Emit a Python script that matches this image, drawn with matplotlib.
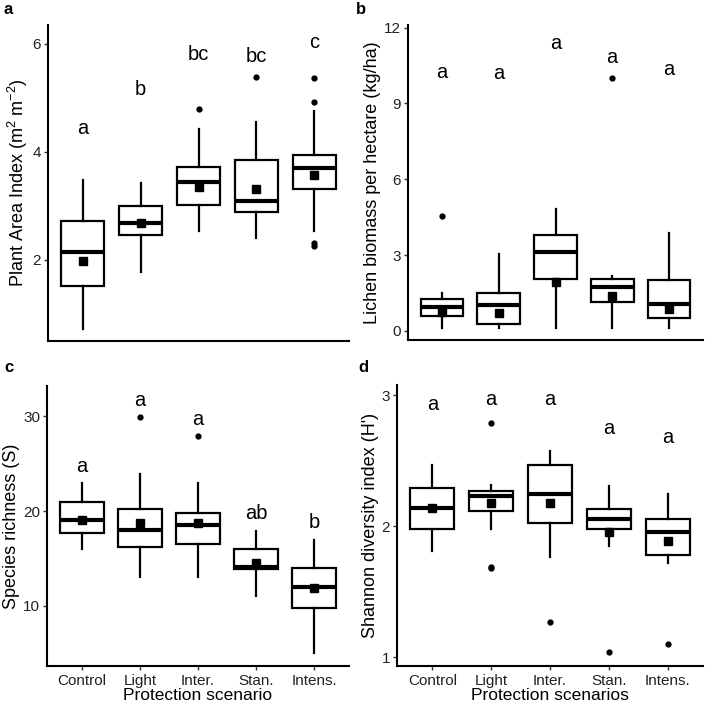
import matplotlib
matplotlib.use('Agg')
import matplotlib.pyplot as plt

plt.rcParams['font.family'] = ['Liberation Sans', 'DejaVu Sans']
plt.rcParams['mathtext.fontset'] = 'custom'
plt.rcParams['mathtext.rm'] = 'Liberation Sans'
plt.rcParams['mathtext.it'] = 'Liberation Sans'

scenarios = ['Control', 'Light', 'Inter.', 'Stan.', 'Intens.']

# panel a: plant area index
pai_low = [0.73, 1.78, 2.54, 2.40, 2.54]
pai_q1 = [1.51, 2.47, 3.02, 2.89, 3.32]
pai_med = [2.15, 2.68, 3.44, 3.09, 3.71]
pai_q3 = [2.73, 2.99, 3.72, 3.86, 3.94]
pai_high = [3.48, 3.42, 4.43, 4.56, 4.75]
pai_mean = [1.98, 2.69, 3.35, 3.31, 3.57]
pai_out = [[], [], [4.80], [5.38], [5.36, 4.93, 2.31, 2.26]]
pai_letters = ['a', 'b', 'bc', 'bc', 'c']
pai_letter_y = [4.44, 5.15, 5.81, 5.77, 6.02]

# panel b: lichen biomass
lic_low = [0.11, 0.13, 0.13, 0.13, 0.11]
lic_q1 = [0.59, 0.28, 2.07, 1.16, 0.53]
lic_med = [0.93, 1.03, 3.13, 1.72, 1.05]
lic_q3 = [1.26, 1.49, 3.78, 2.04, 2.01]
lic_high = [1.51, 3.04, 4.84, 2.17, 3.86]
lic_mean = [0.76, 0.70, 1.95, 1.38, 0.87]
lic_out = [[4.54], [], [], [10.01], []]
lic_letters = ['a', 'a', 'a', 'a', 'a']
lic_letter_y = [10.24, 10.17, 11.38, 10.83, 10.33]

# panel c: species richness
sr_low = [15.98, 12.99, 12.99, 11.02, 5.04]
sr_q1 = [17.7, 16.22, 16.57, 13.9, 9.75]
sr_med = [19.03, 17.98, 18.5, 14.04, 12.0]
sr_q3 = [21.0, 20.23, 19.74, 15.94, 13.97]
sr_high = [22.97, 23.95, 22.97, 17.9, 16.92]
sr_mean = [19.03, 18.75, 18.75, 14.5, 11.86]
sr_out = [[], [29.93], [27.93], [], []]
sr_letters = ['a', 'a', 'a', 'ab', 'b']
sr_letter_y = [24.7, 31.7, 29.65, 19.7, 18.75]

# panel d: shannon diversity
sh_low = [1.81, 1.98, 1.77, 1.85, 1.72]
sh_q1 = [1.98, 2.12, 2.03, 1.98, 1.78]
sh_med = [2.14, 2.23, 2.25, 2.06, 1.96]
sh_q3 = [2.29, 2.27, 2.47, 2.13, 2.06]
sh_high = [2.47, 2.32, 2.58, 2.31, 2.25]
sh_mean = [2.14, 2.18, 2.18, 1.96, 1.89]
sh_out = [[], [2.79, 1.69, 1.68], [1.27], [1.04], [1.10]]
sh_letters = ['a', 'a', 'a', 'a', 'a']
sh_letter_y = [2.93, 2.97, 2.97, 2.75, 2.68]

W, H = 709, 704
fig = plt.figure(figsize=(W / 100, H / 100), dpi=100)


def add_ax(left, top, right, bottom):
    return fig.add_axes([left / W, 1 - bottom / H, (right - left) / W, (bottom - top) / H])


def draw_panel(ax, low, q1, med, q3, high, mean, out, letters, letter_y, ylim, yticks, ylabel, show_x):
    stats = []
    for i in range(len(scenarios)):
        stats.append({'whislo': low[i], 'q1': q1[i], 'med': med[i], 'q3': q3[i],
                      'whishi': high[i], 'fliers': out[i], 'label': scenarios[i]})
    pos = list(range(1, len(scenarios) + 1))
    ax.bxp(stats, positions=pos, widths=0.75, showcaps=False, patch_artist=True,
           boxprops=dict(facecolor='white', edgecolor='black', linewidth=1.6),
           medianprops=dict(color='black', linewidth=3.0, solid_capstyle='butt'),
           whiskerprops=dict(color='black', linewidth=1.6),
           flierprops=dict(marker='o', markerfacecolor='black', markeredgecolor='black', markersize=3.5))
    ax.plot(pos, mean, 's', color='black', markersize=6, zorder=5)
    for p, t, y in zip(pos, letters, letter_y):
        ax.text(p, y, t, ha='center', va='center', fontsize=14.5, color='black')
    ax.set_xlim(0.4, 5.6)
    ax.set_ylim(*ylim)
    ax.set_yticks(yticks)
    ax.set_ylabel(ylabel, fontsize=13, color='black', labelpad=2)
    for s in ['top', 'right']:
        ax.spines[s].set_visible(False)
    for s in ['left', 'bottom']:
        ax.spines[s].set_linewidth(1.5)
    ax.tick_params(axis='y', labelsize=11, length=3, width=1, pad=2, color='#333333', labelcolor='#222222')
    if show_x:
        ax.tick_params(axis='x', labelsize=11, length=3, width=1, pad=3, color='#333333', labelcolor='#222222')
    else:
        ax.tick_params(axis='x', bottom=False, labelbottom=False)


ax_a = add_ax(48, 25, 349, 341)
draw_panel(ax_a, pai_low, pai_q1, pai_med, pai_q3, pai_high, pai_mean, pai_out, pai_letters, pai_letter_y,
           (0.5, 6.35), [2, 4, 6], 'Plant Area Index (m$^{2}$ m$^{-2}$)', False)

ax_b = add_ax(408, 25, 703, 340)
draw_panel(ax_b, lic_low, lic_q1, lic_med, lic_q3, lic_high, lic_mean, lic_out, lic_letters, lic_letter_y,
           (-0.36, 12.1), [0, 3, 6, 9, 12], 'Lichen biomass per hectare (kg/ha)', False)

ax_c = add_ax(47, 386, 349, 666)
draw_panel(ax_c, sr_low, sr_q1, sr_med, sr_q3, sr_high, sr_mean, sr_out, sr_letters, sr_letter_y,
           (3.64, 33.2), [10, 20, 30], 'Species richness (S)', True)
ax_c.set_xlabel('Protection scenario', fontsize=12.5, labelpad=0)

ax_d = add_ax(397, 385, 703, 666)
draw_panel(ax_d, sh_low, sh_q1, sh_med, sh_q3, sh_high, sh_mean, sh_out, sh_letters, sh_letter_y,
           (0.935, 3.08), [1, 2, 3], "Shannon diversity index (H')", True)
ax_d.set_xlabel('Protection scenarios', fontsize=12.5, labelpad=0)

for lab, x, y in [('a', 4, 10), ('b', 356, 10), ('c', 4, 368), ('d', 358, 368)]:
    fig.text(x / W, 1 - y / H, lab, fontsize=12, fontweight='bold', ha='left', va='center')

fig.savefig('out.png', dpi=100)
